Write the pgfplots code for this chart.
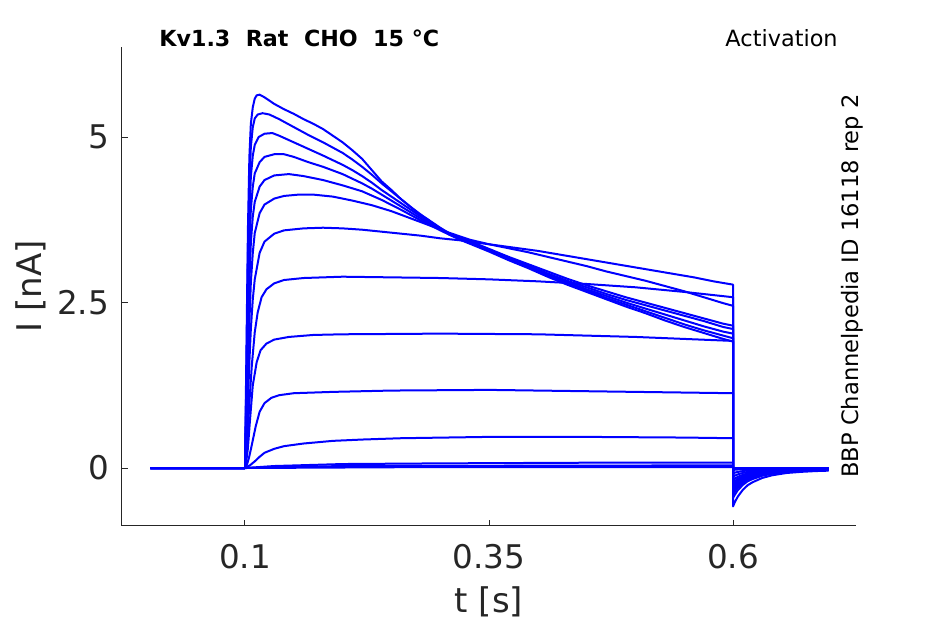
\documentclass[border=0pt]{standalone}
\usepackage{fontspec}
\setmainfont{DejaVu Sans}
\usepackage{pgfplots}
\pgfplotsset{compat=1.18}
\definecolor{axgray}{HTML}{262626}
\tikzset{tr/.style={draw=blue, line width=1pt, line join=round}}
\begin{document}
\begin{tikzpicture}
\begin{axis}[
 at={(0,0)}, anchor=south west,
 scale only axis, width=367pt, height=239.5pt,
 xmin=-0.026, xmax=0.726, ymin=-0.876, ymax=6.36,
 axis x line*=bottom, axis y line*=left,
 axis line style={axgray, line width=0.5pt, -},
 xtick={0.1,0.35,0.6}, xticklabels={0.1,0.35,0.6},
 ytick={0,2.5,5}, yticklabels={0,2.5,5},
 tick align=inside, major tick length=3pt,
 tick style={axgray, line width=0.5pt},
 ticklabel style={font=\fontsize{16.3}{19}\selectfont, text=axgray},
 /pgf/number format/assume math mode=true,
 xticklabel style={yshift=-5.5pt},
 yticklabel style={xshift=-3pt},
 xlabel={t [s]}, ylabel={I [nA]},
 label style={font=\fontsize{17}{20}\selectfont, text=axgray},
 xlabel style={at={(axis description cs:0.5,-0.1816)}, anchor=base},
 ylabel style={at={(axis description cs:-0.109,0.5)}, anchor=base},
 clip=false,
]
% A
\addplot[tr] coordinates {(0.003,0)(0.05,0)(0.1,0)(0.1015,1.8)(0.103,3.6)(0.1045,4.7)(0.106,5.2)(0.108,5.45)(0.11,5.58)(0.112,5.63)(0.115,5.64)(0.12,5.6)(0.13,5.5)(0.14,5.42)(0.15,5.35)(0.16,5.27)(0.17,5.2)(0.18,5.12)(0.19,5.02)(0.2,4.92)(0.21,4.8)(0.22,4.67)(0.23,4.5)(0.24,4.33)(0.25,4.2)(0.26,4.06)(0.27,3.94)(0.28,3.82)(0.29,3.72)(0.30,3.62)(0.31,3.52)(0.32,3.45)(0.33,3.39)(0.35,3.27)(0.37,3.14)(0.39,3.02)(0.41,2.89)(0.43,2.77)(0.45,2.66)(0.47,2.55)(0.49,2.44)(0.51,2.34)(0.53,2.23)(0.55,2.13)(0.57,2.04)(0.59,1.95)(0.6,1.91)(0.6,-0.58)(0.602,-0.51)(0.605,-0.43)(0.61,-0.33)(0.615,-0.26)(0.62,-0.215)(0.63,-0.15)(0.64,-0.11)(0.655,-0.075)(0.67,-0.058)(0.685,-0.046)(0.698,-0.04)};
% B
\addplot[tr] coordinates {(0.003,0)(0.05,0)(0.1,0)(0.1015,1.5)(0.103,3.2)(0.1045,4.3)(0.106,4.85)(0.108,5.15)(0.11,5.28)(0.113,5.34)(0.118,5.36)(0.125,5.34)(0.135,5.27)(0.15,5.15)(0.165,5.03)(0.18,4.92)(0.19,4.84)(0.2,4.76)(0.21,4.66)(0.22,4.55)(0.23,4.43)(0.24,4.3)(0.25,4.18)(0.26,4.06)(0.27,3.94)(0.28,3.83)(0.29,3.73)(0.30,3.63)(0.31,3.54)(0.32,3.47)(0.33,3.41)(0.35,3.28)(0.37,3.15)(0.39,3.03)(0.41,2.91)(0.43,2.79)(0.45,2.68)(0.47,2.57)(0.49,2.47)(0.51,2.37)(0.53,2.27)(0.55,2.17)(0.57,2.08)(0.59,2.0)(0.6,1.96)(0.6,-0.45)(0.602,-0.40)(0.605,-0.333)(0.61,-0.256)(0.615,-0.2)(0.62,-0.167)(0.63,-0.117)(0.64,-0.086)(0.655,-0.059)(0.67,-0.045)(0.685,-0.036)(0.698,-0.032)};
% C
\addplot[tr] coordinates {(0.003,0)(0.05,0)(0.1,0)(0.1015,1.2)(0.103,2.7)(0.1045,3.8)(0.106,4.4)(0.108,4.72)(0.11,4.88)(0.114,5.0)(0.12,5.05)(0.128,5.06)(0.135,5.02)(0.15,4.92)(0.165,4.82)(0.18,4.72)(0.19,4.65)(0.2,4.58)(0.21,4.5)(0.22,4.41)(0.23,4.31)(0.24,4.2)(0.25,4.1)(0.26,4.0)(0.27,3.9)(0.28,3.8)(0.29,3.7)(0.3,3.61)(0.31,3.53)(0.32,3.47)(0.33,3.42)(0.35,3.29)(0.37,3.17)(0.39,3.05)(0.41,2.93)(0.43,2.81)(0.45,2.7)(0.47,2.6)(0.49,2.5)(0.51,2.41)(0.53,2.32)(0.55,2.23)(0.57,2.14)(0.59,2.06)(0.6,2.03)(0.6,-0.40)(0.602,-0.352)(0.605,-0.296)(0.61,-0.228)(0.615,-0.18)(0.62,-0.148)(0.63,-0.104)(0.64,-0.076)(0.655,-0.052)(0.67,-0.04)(0.685,-0.032)(0.698,-0.028)};
% D
\addplot[tr] coordinates {(0.003,0)(0.05,0)(0.1,0)(0.1015,1.0)(0.103,2.3)(0.1045,3.3)(0.106,3.9)(0.108,4.25)(0.11,4.45)(0.115,4.62)(0.12,4.7)(0.13,4.74)(0.14,4.74)(0.15,4.7)(0.165,4.62)(0.18,4.55)(0.2,4.44)(0.21,4.37)(0.22,4.3)(0.23,4.22)(0.24,4.13)(0.25,4.04)(0.26,3.95)(0.27,3.86)(0.28,3.77)(0.29,3.68)(0.3,3.6)(0.31,3.53)(0.32,3.47)(0.33,3.42)(0.35,3.3)(0.37,3.18)(0.39,3.06)(0.41,2.94)(0.43,2.83)(0.45,2.73)(0.47,2.63)(0.49,2.54)(0.51,2.46)(0.53,2.38)(0.55,2.3)(0.57,2.22)(0.59,2.13)(0.6,2.1)(0.6,-0.36)(0.602,-0.317)(0.605,-0.266)(0.61,-0.205)(0.615,-0.162)(0.62,-0.133)(0.63,-0.094)(0.64,-0.068)(0.655,-0.047)(0.67,-0.036)(0.685,-0.029)(0.698,-0.025)};
% E
\addplot[tr] coordinates {(0.003,0)(0.05,0)(0.1,0)(0.1015,0.8)(0.103,1.9)(0.1045,2.8)(0.106,3.4)(0.108,3.8)(0.11,4.02)(0.115,4.25)(0.12,4.35)(0.13,4.42)(0.145,4.44)(0.16,4.41)(0.18,4.35)(0.2,4.27)(0.22,4.18)(0.24,4.05)(0.26,3.9)(0.28,3.74)(0.3,3.59)(0.31,3.52)(0.32,3.47)(0.33,3.43)(0.35,3.31)(0.37,3.19)(0.39,3.08)(0.41,2.97)(0.43,2.86)(0.45,2.76)(0.47,2.67)(0.49,2.58)(0.51,2.5)(0.53,2.42)(0.55,2.34)(0.57,2.26)(0.59,2.18)(0.6,2.15)(0.6,-0.32)(0.602,-0.282)(0.605,-0.237)(0.61,-0.182)(0.615,-0.144)(0.62,-0.118)(0.63,-0.083)(0.64,-0.061)(0.655,-0.042)(0.67,-0.032)(0.685,-0.026)(0.698,-0.022)};
% F
\addplot[tr] coordinates {(0.003,0)(0.05,0)(0.1,0)(0.1015,0.6)(0.103,1.4)(0.1045,2.2)(0.106,2.8)(0.108,3.25)(0.11,3.55)(0.115,3.85)(0.12,3.98)(0.13,4.07)(0.14,4.11)(0.155,4.13)(0.17,4.13)(0.19,4.1)(0.21,4.04)(0.23,3.97)(0.25,3.88)(0.27,3.77)(0.29,3.66)(0.31,3.55)(0.33,3.45)(0.35,3.38)(0.37,3.32)(0.39,3.26)(0.41,3.19)(0.43,3.12)(0.45,3.05)(0.47,2.97)(0.49,2.9)(0.51,2.83)(0.53,2.75)(0.55,2.67)(0.57,2.58)(0.59,2.49)(0.6,2.45)(0.6,-0.28)(0.602,-0.246)(0.605,-0.207)(0.61,-0.16)(0.615,-0.126)(0.62,-0.104)(0.63,-0.073)(0.64,-0.053)(0.655,-0.036)(0.67,-0.028)(0.685,-0.022)(0.698,-0.02)};
% G
\addplot[tr] coordinates {(0.003,0)(0.05,0)(0.1,0)(0.1015,0.4)(0.103,1.0)(0.1045,1.6)(0.106,2.1)(0.108,2.55)(0.11,2.85)(0.115,3.25)(0.12,3.42)(0.13,3.54)(0.14,3.59)(0.16,3.62)(0.18,3.63)(0.2,3.62)(0.22,3.6)(0.24,3.57)(0.26,3.54)(0.28,3.51)(0.30,3.47)(0.32,3.44)(0.34,3.4)(0.36,3.36)(0.38,3.32)(0.40,3.28)(0.42,3.23)(0.44,3.18)(0.46,3.13)(0.48,3.08)(0.50,3.03)(0.52,2.98)(0.54,2.93)(0.56,2.88)(0.58,2.82)(0.6,2.77)(0.6,-0.25)(0.602,-0.22)(0.605,-0.185)(0.61,-0.143)(0.615,-0.113)(0.62,-0.093)(0.63,-0.065)(0.64,-0.048)(0.655,-0.033)(0.67,-0.025)(0.685,-0.02)(0.698,-0.018)};
% H
\addplot[tr] coordinates {(0.003,0)(0.05,0)(0.1,0)(0.1015,0.25)(0.103,0.6)(0.105,1.1)(0.107,1.55)(0.11,2.05)(0.113,2.35)(0.117,2.58)(0.122,2.7)(0.13,2.79)(0.14,2.84)(0.16,2.87)(0.2,2.89)(0.25,2.88)(0.3,2.87)(0.35,2.85)(0.4,2.82)(0.45,2.78)(0.5,2.73)(0.55,2.66)(0.6,2.58)(0.6,-0.22)(0.602,-0.194)(0.605,-0.163)(0.61,-0.125)(0.615,-0.099)(0.62,-0.081)(0.63,-0.057)(0.64,-0.042)(0.655,-0.029)(0.67,-0.022)(0.685,-0.018)(0.698,-0.015)};
% I
\addplot[tr] coordinates {(0.003,0)(0.05,0)(0.1,0)(0.1015,0.12)(0.103,0.3)(0.105,0.7)(0.108,1.25)(0.112,1.6)(0.116,1.78)(0.122,1.88)(0.13,1.94)(0.145,1.98)(0.17,2.01)(0.2,2.02)(0.3,2.03)(0.4,2.02)(0.45,2.0)(0.5,1.98)(0.55,1.95)(0.6,1.92)(0.6,-0.18)(0.602,-0.158)(0.605,-0.133)(0.61,-0.103)(0.615,-0.081)(0.62,-0.067)(0.63,-0.047)(0.64,-0.034)(0.655,-0.023)(0.67,-0.018)(0.685,-0.014)(0.698,-0.013)};
% J
\addplot[tr] coordinates {(0.003,0)(0.05,0)(0.1,0)(0.102,0.05)(0.104,0.15)(0.106,0.28)(0.108,0.42)(0.111,0.63)(0.115,0.85)(0.12,0.98)(0.127,1.06)(0.135,1.1)(0.15,1.13)(0.19,1.15)(0.25,1.17)(0.35,1.18)(0.45,1.16)(0.55,1.14)(0.6,1.13)(0.6,-0.13)(0.602,-0.114)(0.605,-0.096)(0.61,-0.074)(0.615,-0.059)(0.62,-0.048)(0.63,-0.034)(0.64,-0.025)(0.655,-0.017)(0.67,-0.013)(0.685,-0.01)(0.698,-0.009)};
% K
\addplot[tr] coordinates {(0.003,0)(0.05,0)(0.1,0)(0.105,0.04)(0.11,0.1)(0.115,0.17)(0.12,0.23)(0.13,0.29)(0.14,0.33)(0.16,0.37)(0.19,0.41)(0.22,0.43)(0.26,0.45)(0.35,0.47)(0.45,0.47)(0.55,0.46)(0.6,0.45)(0.6,-0.08)(0.602,-0.07)(0.605,-0.059)(0.61,-0.046)(0.615,-0.036)(0.62,-0.03)(0.63,-0.021)(0.64,-0.015)(0.655,-0.01)(0.67,-0.008)(0.685,-0.006)(0.698,-0.006)};
% L
\addplot[tr] coordinates {(0.003,0)(0.05,0)(0.1,0)(0.13,0.03)(0.2,0.06)(0.3,0.07)(0.45,0.08)(0.6,0.08)(0.6,-0.03)(0.602,-0.026)(0.605,-0.022)(0.61,-0.017)(0.615,-0.014)(0.62,-0.011)(0.63,-0.008)(0.64,-0.006)(0.655,-0.004)(0.698,-0.002)};
% M
\addplot[tr] coordinates {(0.003,0)(0.05,0)(0.1,0)(0.2,0.03)(0.6,0.04)(0.6,-0.01)(0.62,-0.004)(0.698,0)};
% N
\addplot[tr] coordinates {(0.003,0)(0.05,0)(0.1,0)(0.3,0.015)(0.6,0.015)(0.6,0)(0.698,0)};
\node[anchor=base west, inner sep=0pt, font=\bfseries\fontsize{11.1}{13}\selectfont] at (rel axis cs:0.0504,1) {Kv1.3\ \ Rat\ \ CHO\ \ 15 °C};
\node[anchor=base east, inner sep=0pt, font=\fontsize{11.2}{13}\selectfont] at (rel axis cs:0.9755,1) {Activation};
\node[rotate=90, anchor=base, inner sep=0pt, font=\fontsize{11.3}{13}\selectfont] at (rel axis cs:1.0027,0.501) {BBP Channelpedia ID 16118 rep 2};
\end{axis}
\pgfresetboundingbox
\path[use as bounding box] (-61pt,-49pt) rectangle (411.5pt,263pt);
\end{tikzpicture}
\end{document}
